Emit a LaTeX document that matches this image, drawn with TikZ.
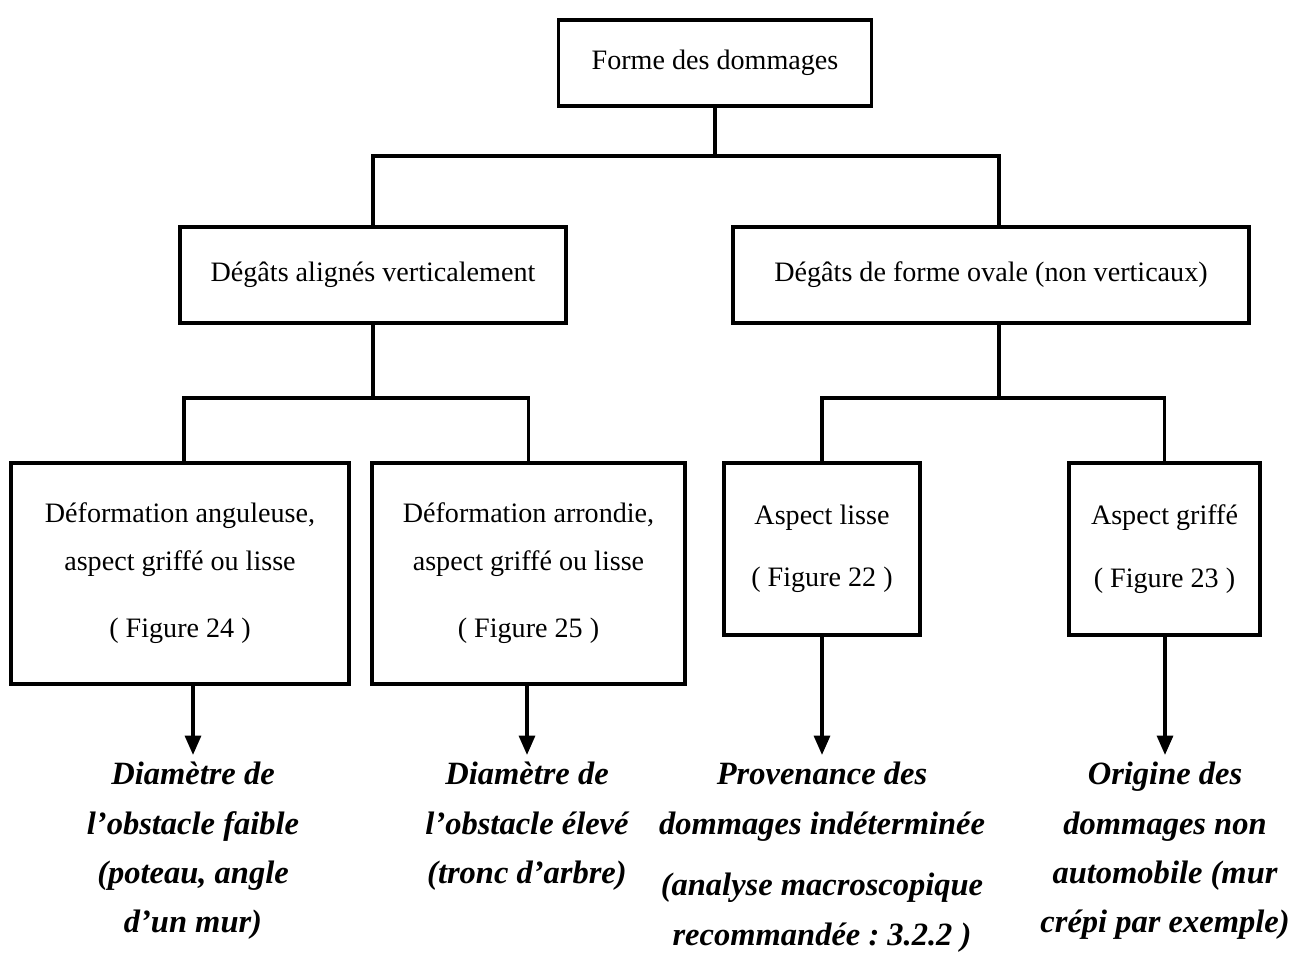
\documentclass[tikz,border=0pt]{standalone}
\usepackage{fontspec}
\setmainfont{Liberation Serif}
\usetikzlibrary{arrows.meta}
\frenchspacing

\begin{document}
\begin{tikzpicture}[
  box/.style={draw,line width=2.2pt,align=center,inner sep=0pt,font=\fontsize{16}{27}\selectfont},
  link/.style={line width=2pt},
  arr/.style={-{Triangle[width=9pt,length=11pt]},line width=2pt},
  res/.style={anchor=north,align=center,inner xsep=0pt,inner ysep=4pt,font=\fontsize{18.5}{28}\selectfont\bfseries\itshape}]
  \useasboundingbox (0,0) rectangle (26.16,19.08);

  % Level 1: root of the tree
  \node[box,minimum width=6.26cm,minimum height=1.72cm] (forme) at (14.30,17.82) {Forme des dommages};

  % Level 2: the two families
  \node[box,minimum width=7.72cm,minimum height=1.92cm] (vert) at (7.46,13.58) {Dégâts alignés verticalement};
  \node[box,minimum width=10.32cm,minimum height=1.92cm] (ovale) at (19.82,13.58) {Dégâts de forme ovale (non verticaux)};

  % Level 3: the four cases
  \node[box,minimum width=6.76cm,minimum height=4.42cm] (angul) at (3.60,7.61) {Déformation anguleuse,\\ aspect griffé ou lisse\\[0.4cm] ( Figure 24 )};
  \node[box,minimum width=6.26cm,minimum height=4.42cm] (arrond) at (10.57,7.61) {Déformation arrondie,\\ aspect griffé ou lisse\\[0.4cm] ( Figure 25 )};
  \node[box,minimum width=3.92cm,minimum height=3.44cm] (lisse) at (16.44,8.10) {Aspect lisse\\[0.3cm] ( Figure 22 )};
  \node[box,minimum width=3.82cm,minimum height=3.44cm] (griffe) at (23.29,8.10) {Aspect griffé\\[0.3cm] ( Figure 23 )};

  % Conclusions
  \node[res] (diam1) at (3.86,3.98) {Diamètre de\\ l'obstacle faible\\ (poteau, angle\\ d'un mur)};
  \node[res] (diam2) at (10.54,3.98) {Diamètre de\\ l'obstacle élevé\\ (tronc d'arbre)};
  \node[res] (prov) at (16.44,3.98) {Provenance des\\ dommages indéterminée\\[0.25cm] (analyse macroscopique\\ recommandée : 3.2.2 )};
  \node[res] (orig) at (23.30,3.98) {Origine des\\ dommages non\\ automobile (mur\\ crépi par exemple)};

  % Tree connectors (the right branch sits a little off centre)
  \draw[link] (forme.south) -- ++(0,-0.96) -| (vert.north);
  \draw[link] (forme.south) -- ++(0,-0.96) -| ([xshift=0.16cm]ovale.north);
  \draw[link] (vert.south) -- ++(0,-1.46) -| ([xshift=0.08cm]angul.north);
  \draw[link] (vert.south) -- ++(0,-1.46) -| (arrond.north);
  \draw[link] ([xshift=0.16cm]ovale.south) -- ++(0,-1.46) -| (lisse.north);
  \draw[link] ([xshift=0.16cm]ovale.south) -- ++(0,-1.46) -| (griffe.north);

  % Arrows to the conclusions
  \draw[arr] (angul.south -| diam1.north) -- (diam1.north);
  \draw[arr] (arrond.south -| diam2.north) -- (diam2.north);
  \draw[arr] (lisse.south -| prov.north) -- (prov.north);
  \draw[arr] (griffe.south -| orig.north) -- (orig.north);
\end{tikzpicture}
\end{document}
